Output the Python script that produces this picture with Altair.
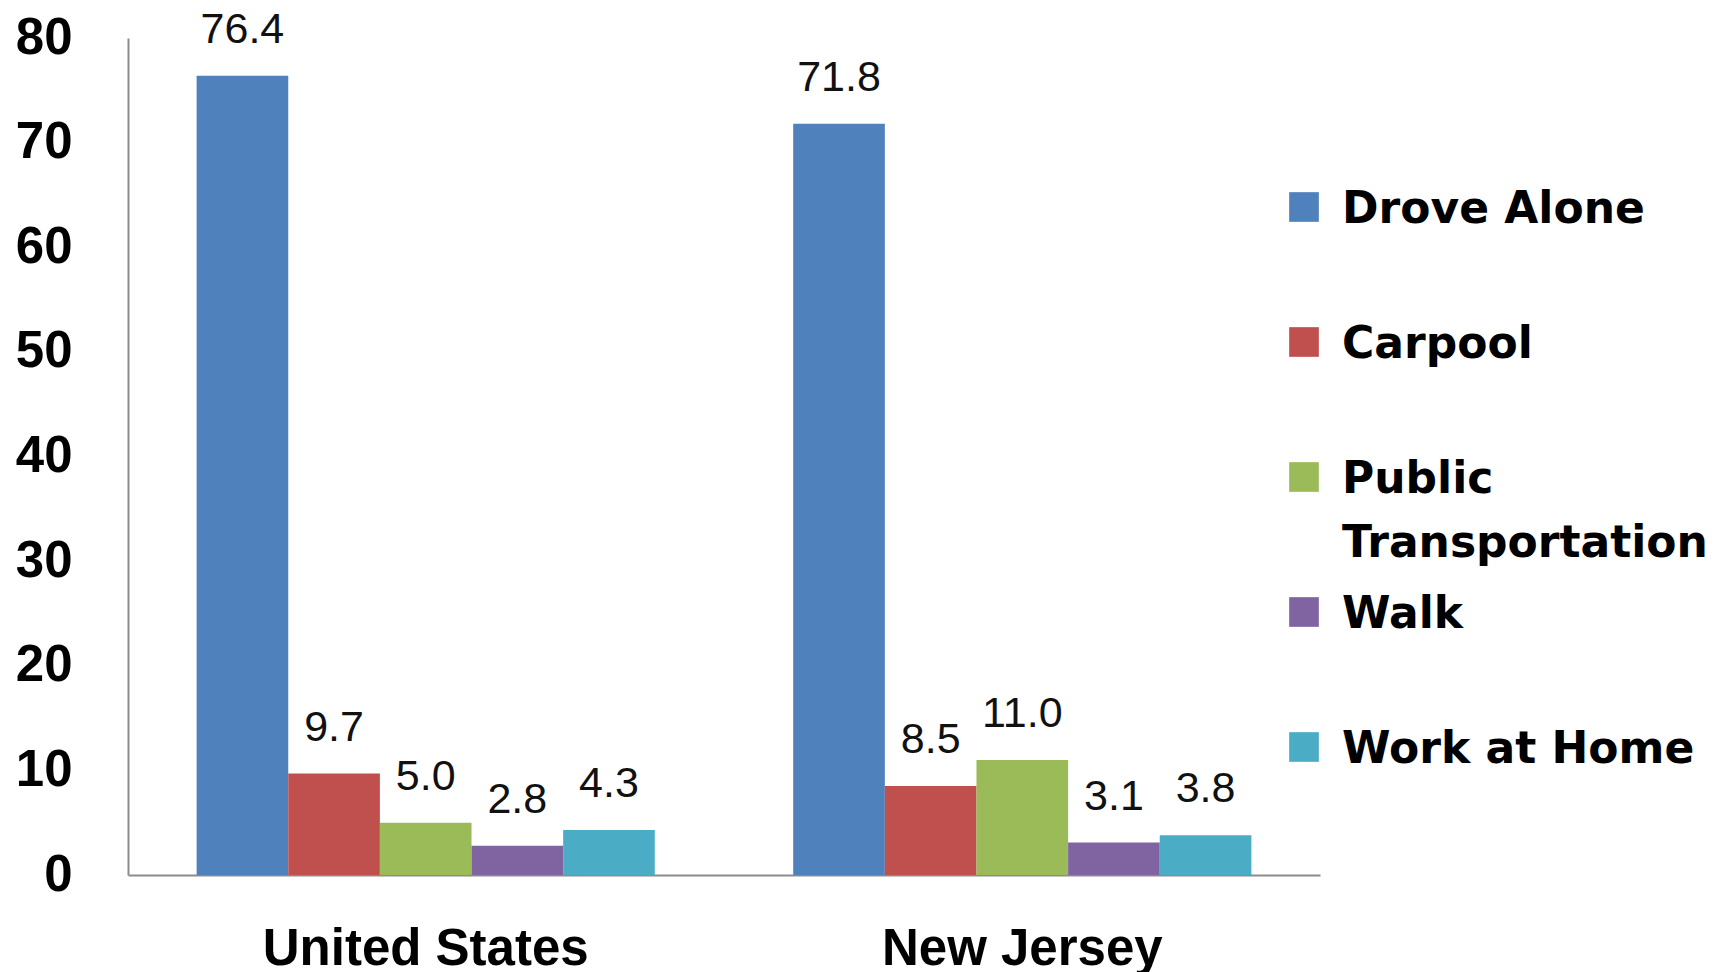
import altair as alt
import pandas as pd

areas = ["United States", "New Jersey"]
modes = ["Drove Alone", "Carpool", "Public Transportation", "Walk", "Work at Home"]
legend_labels = ["Drove Alone", "Carpool", "Public\nTransportation", "Walk", "Work at Home"]
us_values = [76.4, 9.7, 5.0, 2.8, 4.3]
nj_values = [71.8, 8.5, 11.0, 3.1, 3.8]
colors = ["#4F81BD", "#C0504D", "#9BBB59", "#8064A2", "#4BACC6"]
y_ticks = [0, 10, 20, 30, 40, 50, 60, 70, 80]

rows = []
for a, vals in zip(areas, [us_values, nj_values]):
    for m, v in zip(modes, vals):
        rows.append({"Area": a, "Mode": m, "Value": v})
df = pd.DataFrame(rows)
leg = pd.DataFrame({"Mode": modes, "Label": legend_labels})

AXIS_GRAY = "#8c8c8c"
FONT = "Liberation Sans"

color = alt.Color("Mode:N", scale=alt.Scale(domain=modes, range=colors), legend=None)

x = alt.X(
    "Area:N", sort=areas,
    scale=alt.Scale(paddingInner=0.232, paddingOuter=0.115),
    axis=alt.Axis(title=None, labelAngle=0, labelFont=FONT, labelFontSize=51,
                  labelFontWeight="bold", labelColor="#000000", labelPadding=49,
                  labelLimit=0, ticks=False, domainColor=AXIS_GRAY, domainWidth=2),
)
xo = alt.XOffset("Mode:N", sort=modes, scale=alt.Scale(paddingInner=0, paddingOuter=0))
y = alt.Y(
    "Value:Q",
    scale=alt.Scale(domain=[0, 80], nice=False),
    axis=alt.Axis(title=None, values=y_ticks, grid=False, ticks=False,
                  labelFont=FONT, labelFontSize=51, labelFontWeight="bold",
                  labelColor="#000000", labelPadding=56,
                  domainColor=AXIS_GRAY, domainWidth=2),
)

base = alt.Chart(df)
bars = base.mark_bar(opacity=1).encode(x=x, xOffset=xo, y=y, color=color)
labels = base.mark_text(
    font=FONT, fontSize=43, color="#111111", baseline="alphabetic", dy=-33
).encode(x=x, xOffset=xo, y=y, text=alt.Text("Value:Q", format=".1f"))
main = alt.layer(bars, labels)

leg_y = alt.Y("Mode:N", sort=modes,
              scale=alt.Scale(type="point", domain=modes, range=[169, 709], padding=0),
              axis=None)
leg_sq = alt.Chart(leg).mark_square(size=880, opacity=1).encode(
    x=alt.value(1176), y=leg_y, color=color
)
leg_txt = alt.Chart(leg).mark_text(
    font="DejaVu Sans", fontSize=44, fontWeight="bold", color="#000000",
    align="left", baseline="alphabetic", dx=38, dy=16, lineBreak="\n", lineHeight=64
).encode(x=alt.value(1176), y=leg_y, text="Label:N")
legend = alt.layer(leg_sq, leg_txt)

chart = alt.layer(main, legend).resolve_scale(y="independent").properties(
    width=1192, height=837,
    autosize=alt.AutoSizeParams(type="none"),
    padding={"left": 128, "top": 38, "right": 402, "bottom": 97},
    background="white",
).configure_view(stroke=None)

chart.save("out.html", embed_options={"renderer": "svg", "actions": False})
